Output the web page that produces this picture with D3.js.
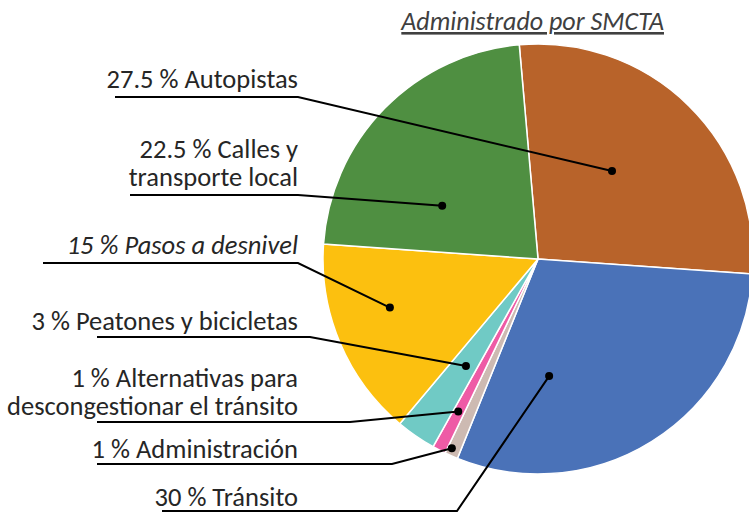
<!DOCTYPE html>
<html>
<head>
<meta charset="utf-8">
<script src="https://cdn.jsdelivr.net/npm/d3@7"></script>
<style>
  body { margin: 0; background: #fff; }
  text { font-family: Carlito, 'Open Sans', sans-serif; fill: #262626; }
</style>
</head>
<body>
<script>
let width = 749, height = 512;

// data
let categories = ['Autopistas', 'Tránsito', 'Administración',
    'Alternativas para descongestionar el tránsito', 'Peatones y bicicletas',
    'Pasos a desnivel', 'Calles y transporte local'];
let values = [27.5, 30, 1, 1, 3, 15, 22.5];
let labelLines = [
    ['27.5 % Autopistas'],
    ['30 % Tránsito'],
    ['1 % Administración'],
    ['1 % Alternativas para', 'descongestionar el tránsito'],
    ['3 % Peatones y bicicletas'],
    ['15 % Pasos a desnivel'],
    ['22.5 % Calles y', 'transporte local']
];
let colors = ['#b8632a', '#4a72b8', '#cdbab2', '#ee5ba6', '#70cac5', '#fcc00f', '#4f8f41'];

// label layout: where the leader starts and where its dot sits inside the slice
let layout = [
    {base: 88, lineY: 97, x0: 115, bend: 298, t: 0.455, r: 0.535},
    {base: 506, lineY: 511, x0: 162, bend: 457, t: 0.746, r: 0.547},
    {base: 458, lineY: 464, x0: 97, bend: 392, t: 0.69, r: 0.967},
    {base: 387, lineY: 422, x0: 97, bend: 350, t: 0.56, r: 0.80},
    {base: 330, lineY: 337, x0: 97, bend: 310, t: 0.44, r: 0.60},
    {base: 254, lineY: 263, x0: 43, bend: 298, t: 0.59, r: 0.725, italic: true},
    {base: 158, lineY: 195, x0: 130, bend: 298, t: 0.31, r: 0.51}
];

let cx = 538, cy = 259, radius = 215;
let start = -5 * Math.PI / 180;

let svg = d3.select('body').append('svg')
    .attr('width', width).attr('height', height)

let pie = d3.pie().sort(null).value(d => d)
    .startAngle(start).endAngle(start + 2 * Math.PI)
let arcs = pie(values)
let arc = d3.arc().innerRadius(0).outerRadius(radius)

let g = svg.append('g').attr('transform', `translate(${cx}, ${cy})`)
g.selectAll('path').data(arcs).join('path')
    .attr('d', arc)
    .attr('fill', (d, i) => colors[i])
    .attr('stroke', '#fff')
    .attr('stroke-width', 1.5)

// title
svg.append('text')
    .attr('x', 664).attr('y', 30)
    .attr('text-anchor', 'end')
    .attr('font-size', 26)
    .attr('font-style', 'italic')
    .attr('text-decoration', 'underline')
    .style('fill', '#404040')
    .text('Administrado por SMCTA')

// leaders + labels
let point = (d, l) => {
    let a = d.startAngle + (d.endAngle - d.startAngle) * l.t
    return [cx + Math.sin(a) * radius * l.r, cy - Math.cos(a) * radius * l.r]
}
arcs.forEach((d, i) => {
    let l = layout[i]
    let p = point(d, l)
    svg.append('path')
        .attr('d', d3.line()([[l.x0, l.lineY], [l.bend, l.lineY], p]))
        .attr('fill', 'none')
        .attr('stroke', '#000')
        .attr('stroke-width', 2)
    svg.append('circle')
        .attr('cx', p[0]).attr('cy', p[1]).attr('r', 4)
        .attr('fill', '#000')
    let t = svg.append('text')
        .attr('text-anchor', 'end')
        .attr('font-size', 26.5)
        .attr('font-style', l.italic ? 'italic' : null)
    labelLines[i].forEach((s, k) => {
        t.append('tspan').attr('x', 298).attr('y', l.base + k * 28).text(s)
    })
})
</script>
</body>
</html>
